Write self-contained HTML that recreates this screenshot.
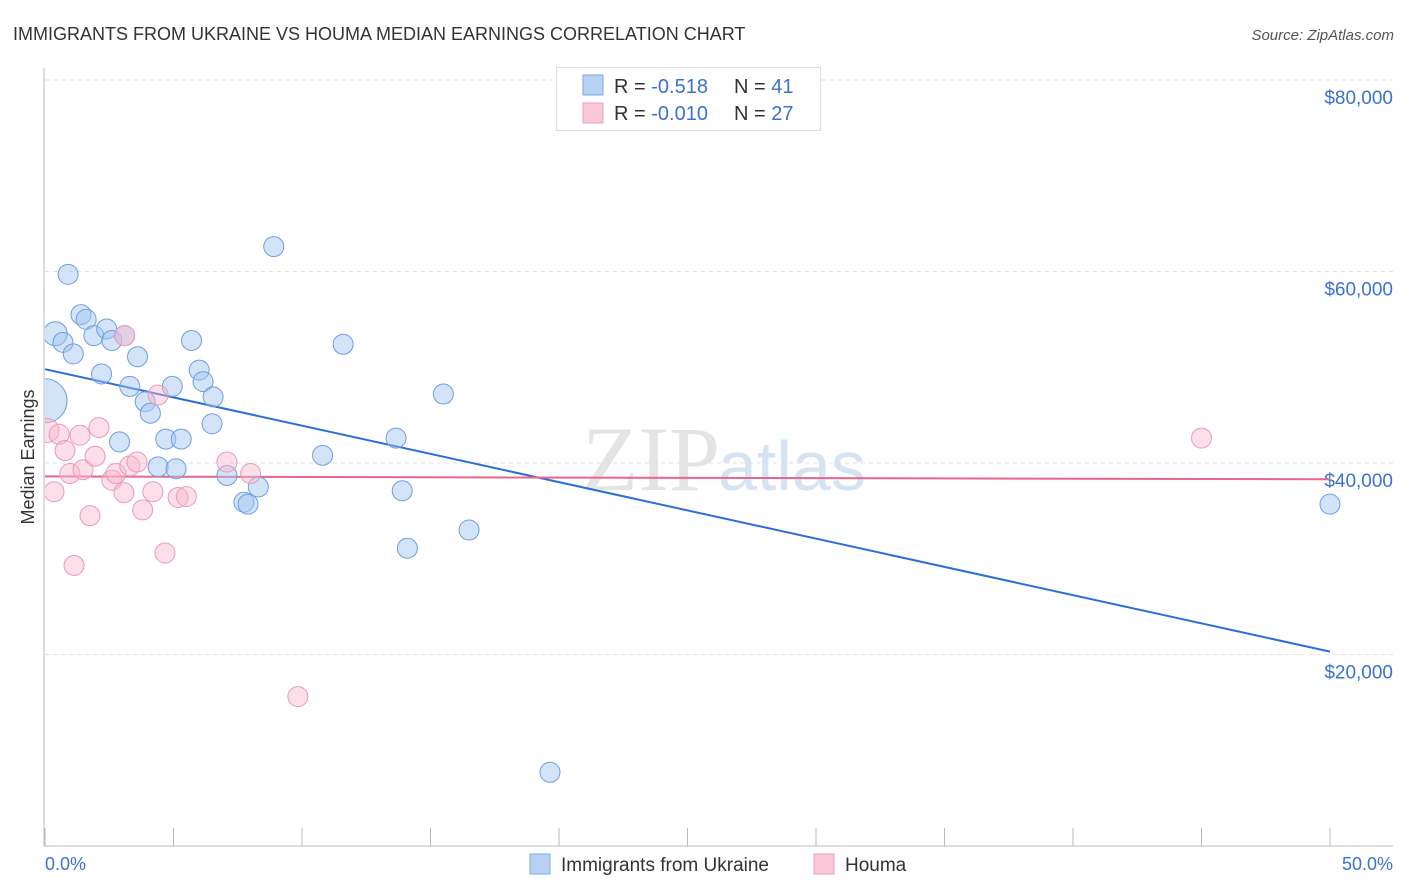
<!DOCTYPE html>
<html><head><meta charset="utf-8"><style>
body{margin:0;background:#fff;font-family:"Liberation Sans",sans-serif;}
svg{display:block}
</style></head><body>
<svg id="c" width="1406" height="892" xmlns="http://www.w3.org/2000/svg">
<defs><clipPath id="pc"><rect x="45" y="60" width="1360" height="786"/></clipPath></defs>
<text x="13" y="40" font-size="18" fill="#333">IMMIGRANTS FROM UKRAINE VS HOUMA MEDIAN EARNINGS CORRELATION CHART</text>
<text x="1394" y="40" font-size="15" fill="#555" font-style="italic" text-anchor="end">Source: ZipAtlas.com</text>
<text x="720" y="490" font-size="92" fill="#e4e4e4" text-anchor="end" font-family="Liberation Serif,serif">ZIP</text>
<text x="718" y="490" font-size="70" fill="#d5e3f3">atlas</text>
<line x1="44" y1="68" x2="44" y2="846" stroke="#bbb"/>
<line x1="44" y1="846" x2="1393" y2="846" stroke="#bbb"/>
<text transform="translate(34,457) rotate(-90)" font-size="18" fill="#333" text-anchor="middle">Median Earnings</text>
<text x="45" y="870" font-size="18" fill="#3a72d0">0.0%</text>
<text x="1393" y="870" font-size="18" fill="#3a72d0" text-anchor="end">50.0%</text>
<g id="grid"></g><g id="lines"></g><g id="pts" clip-path="url(#pc)"></g>
<g>
<rect x="556.5" y="67.5" width="264" height="63" fill="#fff" stroke="#ddd"/>
<rect x="583" y="75" width="20" height="20" fill="#b9d2f3" stroke="#7fa7e0"/>
<text x="614" y="93" font-size="20" fill="#333">R = <tspan fill="#3a72d0"> -0.518</tspan><tspan x="734">N = </tspan><tspan fill="#3a72d0">41</tspan></text>
<rect x="583" y="103" width="20" height="20" fill="#f9c9d7" stroke="#eea0b8"/>
<text x="614" y="120" font-size="20" fill="#333">R = <tspan fill="#3a72d0">-0.010</tspan><tspan x="734">N = </tspan><tspan fill="#3a72d0">27</tspan></text>
</g>
<g>
<rect x="530" y="854" width="20" height="20" fill="#b9d2f3" stroke="#7fa7e0"/>
<text x="561" y="871" font-size="19" fill="#333">Immigrants from Ukraine</text>
<rect x="814" y="854" width="20" height="20" fill="#f9c9d7" stroke="#eea0b8"/>
<text x="845" y="871" font-size="19" fill="#333">Houma</text>
</g>
</svg>
<script>
const yTicks=[20000,40000,60000,80000];
const yTickLabels=["$20,000","$40,000","$60,000","$80,000"];
const xTicks=[0,5,10,15,20,25,30,35,40,45,50];
const blueX=[0,0.4,0.7,0.9,1.1,1.4,1.6,1.9,2.2,2.4,2.6,2.9,3.1,3.3,3.6,3.9,4.1,4.4,4.7,4.95,5.1,5.3,5.7,6.0,6.15,6.5,6.54,7.08,7.74,7.9,8.3,8.9,10.8,11.6,13.66,13.9,14.1,15.5,16.5,19.65,50.0];
const blueY=[46500,53500,52600,59700,51400,55500,55000,53300,49300,54000,52800,42200,53300,48000,51100,46400,45200,39600,42500,48000,39400,42500,52800,49700,48500,44100,46900,38700,35900,35700,37500,62600,40800,52400,42600,37100,31100,47200,33000,7700,35700];
const blueR=[22,12,10,10,10,10,10,10,10,10,10,10,10,10,10,10,10,10,10,10,10,10,10,10,10,10,10,10,10,10,10,10,10,10,10,10,10,10,10,10,10];
const pinkX=[0.08,0.35,0.55,0.78,0.97,1.13,1.36,1.48,1.75,1.95,2.1,2.6,2.76,3.07,3.1,3.3,3.58,3.8,4.2,4.4,4.67,5.18,5.5,7.08,8.0,9.84,45.0];
const pinkY=[43400,37000,43000,41300,38900,29300,42900,39300,34500,40700,43700,38200,38900,36900,53300,39700,40100,35100,37000,47100,30600,36400,36500,40100,38900,15600,42600];
const pinkR=[12,10,10,10,10,10,10,10,10,10,10,10,10,10,10,10,10,10,10,10,10,10,10,10,10,10,10];
const trendBlue=[49800,20300];
const trendPink=[38600,38300];
const NS="http://www.w3.org/2000/svg";
const X=v=>45+v/50*1285;
const Y=v=>846-v/20000*191.5;
function mk(tag,attrs,parent){const e=document.createElementNS(NS,tag);for(const k in attrs)e.setAttribute(k,attrs[k]);parent.appendChild(e);return e;}
const grid=document.getElementById('grid');
yTicks.forEach((t,i)=>{
 const l=mk('line',{x1:45,x2:1393,y1:Y(t),y2:Y(t),stroke:'#e2e2e2','stroke-dasharray':'4,4'},grid);
 
 
 const tx=mk('text',{x:1393,y:Y(t)+24,'font-size':19,fill:'#3a72d0','text-anchor':'end'},grid);
 tx.textContent=yTickLabels[i];
 
 
});
xTicks.forEach(t=>{
 const l=mk('line',{x1:X(t),x2:X(t),y1:828,y2:846,stroke:'#bbb'},grid);
 
 
});
const lines=document.getElementById('lines');
const lb=mk('line',{x1:X(0),x2:X(50),y1:Y(trendBlue[0]),y2:Y(trendBlue[1]),stroke:'#2a6fd6','stroke-width':2},lines);


const lp=mk('line',{x1:X(0),x2:X(50),y1:Y(trendPink[0]),y2:Y(trendPink[1]),stroke:'#e8668e','stroke-width':2},lines);


const pts=document.getElementById('pts');
blueX.forEach((x,i)=>{
 const c=mk('circle',{cx:X(x),cy:Y(blueY[i]),r:blueR[i],fill:'rgba(160,195,240,0.45)',stroke:'#6d9de0','stroke-width':1},pts);
 
 
});
pinkX.forEach((x,i)=>{
 const c=mk('circle',{cx:X(x),cy:Y(pinkY[i]),r:pinkR[i],fill:'rgba(248,185,205,0.45)',stroke:'#ec9ab4','stroke-width':1},pts);
 
 
});
</script>
</body></html>
